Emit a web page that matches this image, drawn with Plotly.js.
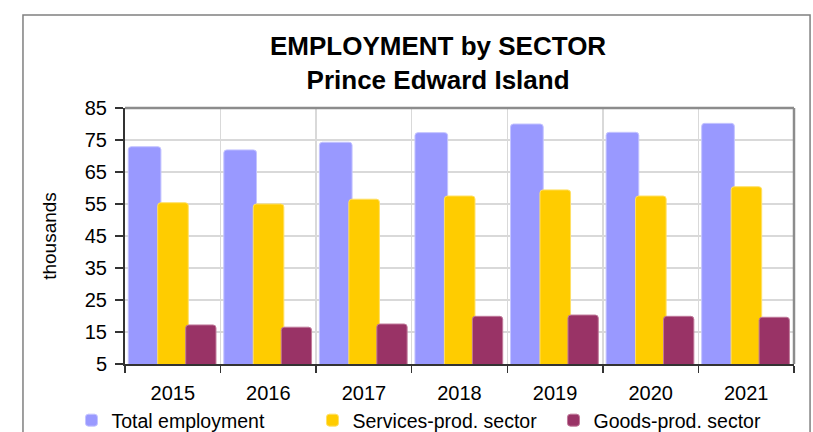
<!DOCTYPE html>
<html>
<head>
<meta charset="utf-8">
<script src="https://cdn.plot.ly/plotly-3.0.1.min.js"></script>
<style>
html,body{margin:0;padding:0;background:#fff;}
#chart{width:813px;height:432px;}
</style>
</head>
<body>
<div id="chart"></div>
<script>
// Data (thousands)
var years = ['2015', '2016', '2017', '2018', '2019', '2020', '2021'];
var totalEmployment = [72.9, 71.9, 74.3, 77.3, 80.0, 77.4, 80.2];
var servicesSector = [55.4, 55.0, 56.5, 57.5, 59.4, 57.5, 60.4];
var goodsSector = [17.2, 16.5, 17.5, 19.9, 20.3, 19.9, 19.6];
var seriesNames = ['Total employment', 'Services-prod. sector', 'Goods-prod. sector'];
var yTickValues = [5, 15, 25, 35, 45, 55, 65, 75, 85];

var FONT = 'Liberation Sans, Arial, sans-serif';

function barTrace(name, values, color, lineColor, offset, width) {
  return {
    type: 'bar',
    name: name,
    x: years,
    y: values,
    offset: offset,
    width: width,
    marker: {color: color, cornerradius: 3, line: {color: lineColor, width: 1}},
    hoverinfo: 'skip'
  };
}

var traces = [
  barTrace(seriesNames[0], totalEmployment, '#9999FF', '#c4c4ff', -0.466, 0.342),
  barTrace(seriesNames[1], servicesSector, '#FFCC00', '#ffe066', -0.158, 0.32),
  barTrace(seriesNames[2], goodsSector, '#993366', '#c07a9a', 0.135, 0.317)
];

var layout = {
  width: 813,
  height: 432,
  margin: {l: 125, r: 19, t: 108, b: 68, autoexpand: false},
  paper_bgcolor: '#ffffff',
  plot_bgcolor: '#ffffff',
  barmode: 'overlay',
  showlegend: true,
  font: {family: FONT, color: '#000000'},
  title: {
    text: '<b>EMPLOYMENT by SECTOR<br>Prince Edward Island</b>',
    font: {family: FONT, size: 26, color: '#000000'},
    xref: 'paper', x: 0.468, xanchor: 'center',
    yref: 'container', y: 0.873, yanchor: 'top'
  },
  xaxis: {
    type: 'category',
    tickson: 'boundaries',
    ticks: 'outside',
    ticklen: 7,
    tickwidth: 1.5,
    tickcolor: '#333333',
    ticklabelstandoff: 10,
    showgrid: true,
    gridcolor: '#d9d9d9',
    gridwidth: 1.5,
    showline: true,
    linecolor: '#333333',
    linewidth: 2,
    tickfont: {family: FONT, size: 20, color: '#000000'},
    fixedrange: true
  },
  yaxis: {
    range: [5, 85],
    tickmode: 'array',
    tickvals: yTickValues,
    ticktext: yTickValues.map(String),
    ticks: 'outside',
    ticklen: 8,
    tickwidth: 1.5,
    tickcolor: '#333333',
    ticklabelstandoff: 4,
    showgrid: true,
    gridcolor: '#d9d9d9',
    gridwidth: 1.5,
    zeroline: false,
    showline: true,
    linecolor: '#333333',
    linewidth: 2,
    tickfont: {family: FONT, size: 20, color: '#000000'},
    title: {text: 'thousands', font: {family: FONT, size: 19, color: '#000000'}, standoff: 23},
    fixedrange: true
  },
  legend: {
    orientation: 'h',
    xref: 'paper', x: -0.08, xanchor: 'left',
    yref: 'paper', y: -0.1445, yanchor: 'top',
    font: {family: FONT, size: 19.5, color: '#000000'},
    entrywidth: 196,
    entrywidthmode: 'pixels',
    bgcolor: 'rgba(0,0,0,0)'
  },
  shapes: [
    // outer chart border
    {type: 'rect', xref: 'paper', yref: 'paper', x0: -0.1525, x1: 1.024, y0: -0.35, y1: 1.363,
     line: {color: '#808080', width: 1.5}, fillcolor: 'rgba(0,0,0,0)', layer: 'below'},
    // plot frame top and right (gray)
    {type: 'line', xref: 'paper', yref: 'paper', x0: 0, x1: 1, y0: 1, y1: 1,
     line: {color: '#8c8c8c', width: 2.5}, layer: 'above'},
    {type: 'line', xref: 'paper', yref: 'paper', x0: 1, x1: 1, y0: 0, y1: 1,
     line: {color: '#8c8c8c', width: 2.5}, layer: 'above'}
  ]
};

Plotly.newPlot('chart', traces, layout, {displayModeBar: false, staticPlot: true});
</script>
</body>
</html>
